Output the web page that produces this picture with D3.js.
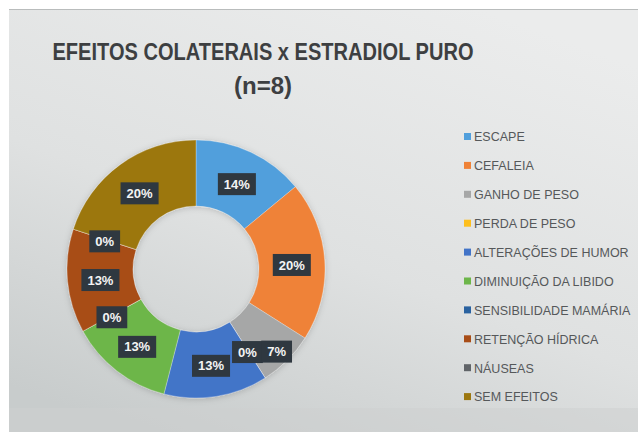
<!DOCTYPE html>
<meta charset="utf-8">
<script src="https://d3js.org/d3.v7.min.js"></script>
<style>
  body { margin: 0; background: #fff; }
</style>
<div id="chart"></div>
<script>
  // data (percent of patients, n=8)
  const categories = ["ESCAPE", "CEFALEIA", "GANHO DE PESO", "PERDA DE PESO",
    "ALTERAÇÕES DE HUMOR", "DIMINUIÇÃO DA LIBIDO", "SENSIBILIDADE MAMÁRIA",
    "RETENÇÃO HÍDRICA", "NÁUSEAS", "SEM EFEITOS"];
  const values = [14, 20, 7, 0, 13, 13, 0, 13, 0, 20];
  const colors = ["#519fdc", "#ef8237", "#a6a7a7", "#fdbf1e", "#4274c8",
    "#6db64a", "#2a62a0", "#a84d17", "#606468", "#9c770f"];
  const titleLines = ["EFEITOS COLATERAIS x ESTRADIOL PURO", "(n=8)"];

  const width = 638, height = 432;
  const cx = 196, cy = 269, outerR = 129, innerR = 63;

  const svg = d3.select("#chart").append("svg")
    .attr("width", width)
    .attr("height", height)
    .style("font-family", "'Liberation Sans', Arial, sans-serif");

  const defs = svg.append("defs");
  const grad = defs.append("linearGradient")
    .attr("id", "bg")
    .attr("x1", 0.75).attr("y1", 0).attr("x2", 0.2).attr("y2", 1);
  grad.append("stop").attr("offset", 0).attr("stop-color", "#ebecec");
  grad.append("stop").attr("offset", 0.55).attr("stop-color", "#dfe1e1");
  grad.append("stop").attr("offset", 1).attr("stop-color", "#c8cccc");

  const shadow = defs.append("filter").attr("id", "soft")
    .attr("x", -0.2).attr("y", -0.2).attr("width", 1.4).attr("height", 1.4);
  shadow.append("feDropShadow")
    .attr("dx", 0).attr("dy", 1).attr("stdDeviation", 3)
    .attr("flood-color", "#000").attr("flood-opacity", 0.18);

  // panel
  svg.append("rect")
    .attr("x", 9).attr("y", 9)
    .attr("width", width - 9).attr("height", height - 9)
    .attr("fill", "url(#bg)");
  svg.append("line")
    .attr("x1", 9).attr("x2", width).attr("y1", 9.5).attr("y2", 9.5)
    .attr("stroke", "#b9bcbc").attr("stroke-width", 1);
  svg.append("rect")
    .attr("x", 9).attr("y", 408)
    .attr("width", width - 9).attr("height", height - 408)
    .attr("fill", "#cdd0d0").attr("opacity", 0.5);

  // title
  const title = svg.append("text")
    .attr("x", 263)
    .attr("text-anchor", "middle")
    .attr("fill", "#3d3f41")
    .attr("font-weight", "bold")
    .attr("font-size", 24)
    .style("font-family", "'Liberation Sans Narrow', 'Liberation Sans', Arial, sans-serif");
  title.append("tspan").attr("x", 263).attr("y", 60)
    .attr("textLength", 421).attr("lengthAdjust", "spacingAndGlyphs")
    .text(titleLines[0]);
  title.append("tspan").attr("x", 263).attr("y", 94)
    .text(titleLines[1]);

  // donut
  const pie = d3.pie().sort(null).value(d => d);
  const arcs = pie(values);
  const arc = d3.arc().innerRadius(innerR).outerRadius(outerR);

  const g = svg.append("g").attr("transform", `translate(${cx},${cy})`);
  g.append("g").attr("filter", "url(#soft)")
    .selectAll("path")
    .data(arcs)
    .join("path")
      .attr("d", arc)
      .attr("fill", (d, i) => colors[i])
      .attr("stroke", "#ffffff")
      .attr("stroke-opacity", 0.35)
      .attr("stroke-width", 0.8);

  // data labels: centroid on mid ring, pushed outward when they collide
  const labelR = (innerR + outerR) / 2;
  const boxH = 22;
  const labels = g.append("g");
  const placed = [];
  for (let i = arcs.length - 1; i >= 0; i--) {
    const a = arcs[i];
    const mid = (a.startAngle + a.endAngle) / 2;
    const lg = labels.append("g");
    const t = lg.append("text")
      .attr("text-anchor", "middle")
      .attr("dy", "0.35em")
      .attr("fill", "#f4f4f4")
      .attr("font-weight", "bold")
      .attr("font-size", 13)
      .text(values[i] + "%");
    const w = t.node().getComputedTextLength() + 12;
    let r = labelR, x, y;
    for (let k = 0; k < 60; k++) {
      x = Math.sin(mid) * r;
      y = -Math.cos(mid) * r + 2;
      const hit = placed.some(p =>
        Math.abs(p.x - x) < (p.w + w) / 2 - 2 && Math.abs(p.y - y) < boxH - 2);
      if (!hit) break;
      r += 1;
    }
    placed.push({x, y, w});
    lg.attr("transform", `translate(${x},${y})`);
    lg.insert("rect", "text")
      .attr("x", -w / 2).attr("y", -boxH / 2)
      .attr("width", w).attr("height", boxH)
      .attr("fill", "#2f3840");
  }

  // legend
  const legend = svg.append("g").attr("transform", "translate(464,137)");
  const rowH = 28.9;
  const item = legend.selectAll("g")
    .data(categories)
    .join("g")
      .attr("transform", (d, i) => `translate(0,${i * rowH})`);
  item.append("rect")
    .attr("x", 0).attr("y", -4)
    .attr("width", 7).attr("height", 7)
    .attr("fill", (d, i) => colors[i]);
  item.append("text")
    .attr("x", 10)
    .attr("dy", "0.35em")
    .attr("fill", "#55585a")
    .attr("font-size", 12.5)
    .text(d => d);
</script>
